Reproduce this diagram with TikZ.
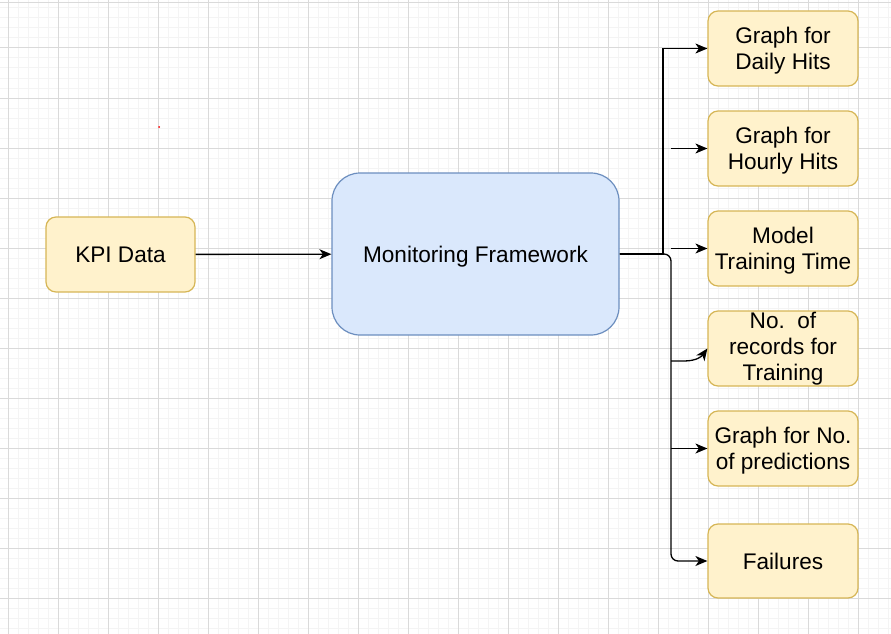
\documentclass[tikz,border=0pt]{standalone}
\usepackage{fontspec}
\setmainfont{Liberation Sans}
\usetikzlibrary{arrows.meta}
\definecolor{yfill}{HTML}{FFF2CC}
\definecolor{ydraw}{HTML}{D6B656}
\definecolor{bfill}{HTML}{DAE8FC}
\definecolor{bdraw}{HTML}{6C8EBF}
\definecolor{gminor}{HTML}{F4F4F4}
\definecolor{gmajor}{HTML}{DADADA}
\newcommand\lnstrut{\rule[-4.8pt]{0pt}{25.8pt}}
\tikzset{
  ybox/.style={draw=ydraw, fill=yfill, line width=1.2pt, rounded corners=10pt,
    minimum width=150pt, minimum height=75pt, inner sep=0pt, align=center,
    font=\fontsize{22.6}{26}\selectfont},
  bbox/.style={draw=bdraw, fill=bfill, line width=1.2pt, rounded corners=28pt,
    minimum width=287pt, minimum height=162pt, inner sep=0pt, align=center,
    font=\fontsize{22.6}{26}\selectfont},
  conn/.style={draw=black, line width=1.3pt, -{Stealth[length=12pt,width=10pt,inset=3.5pt]}},
  gridminor/.style={draw=gminor, line width=1pt},
  gridmajor/.style={draw=gmajor, line width=1pt},
}
\begin{document}
\begin{tikzpicture}[x=1pt,y=-1pt]
\fill[white] (0,0) rectangle (891,634);
\useasboundingbox (0,0) rectangle (891,634);
% grid
\foreach \i in {0,...,88} { \draw[gridminor] (8+10*\i,0) -- (8+10*\i,634); }
\foreach \i in {0,...,62} { \draw[gridminor] (0,8+10*\i) -- (891,8+10*\i); }
\foreach \i in {0,...,17} { \draw[gridmajor] (8+50*\i,0) -- (8+50*\i,634); }
\foreach \i in {0,...,11} { \draw[gridmajor] (0,48+50*\i) -- (891,48+50*\i); }
\draw[gridmajor] (0,3) -- (891,3);
\fill[red] (159,127) circle (1pt);
% nodes
\node[ybox, minimum width=149pt] (kpi) at (120.5,254.5) {\lnstrut KPI Data};
\node[bbox] (mf) at (475.5,254) {\lnstrut Monitoring Framework};
\node[ybox] (daily) at (783,48.5) {\lnstrut Graph for\\\lnstrut Daily Hits};
\node[ybox] (hourly) at (783,148.5) {\lnstrut Graph for\\\lnstrut Hourly Hits};
\node[ybox] (model) at (783,248.5) {\lnstrut Model\\\lnstrut Training Time};
\node[ybox] (records) at (783,348.5) {No.\ \ of\\\lnstrut records for\\Training};
\node[ybox] (pred) at (783,448.5) {\lnstrut Graph for No.\\\lnstrut of predictions};
\node[ybox, minimum height=74pt] (fail) at (783,561) {\lnstrut Failures};
% free ends
\coordinate (hs) at (671,148.5);
\coordinate (ms) at (671,248.5);
\coordinate (rs) at (671,361);
\coordinate (ps) at (671,448.5);
% connectors
\draw[conn] (kpi) -- (mf);
\draw[conn] (mf.east) -- (663,254) -- (663,48.5) -- (daily.west);
\draw[conn] (hs) -- (hourly.west);
\draw[conn] (ms) -- (model.west);
\draw[conn, rounded corners=7pt] (mf.east) -- (671,254) -- (671,561) -- (fail.west);
\draw[conn] (rs) -- (684,361) .. controls (697,361) and (702,356) .. (records.west);
\draw[conn] (ps) -- (pred.west);
\end{tikzpicture}
\end{document}
